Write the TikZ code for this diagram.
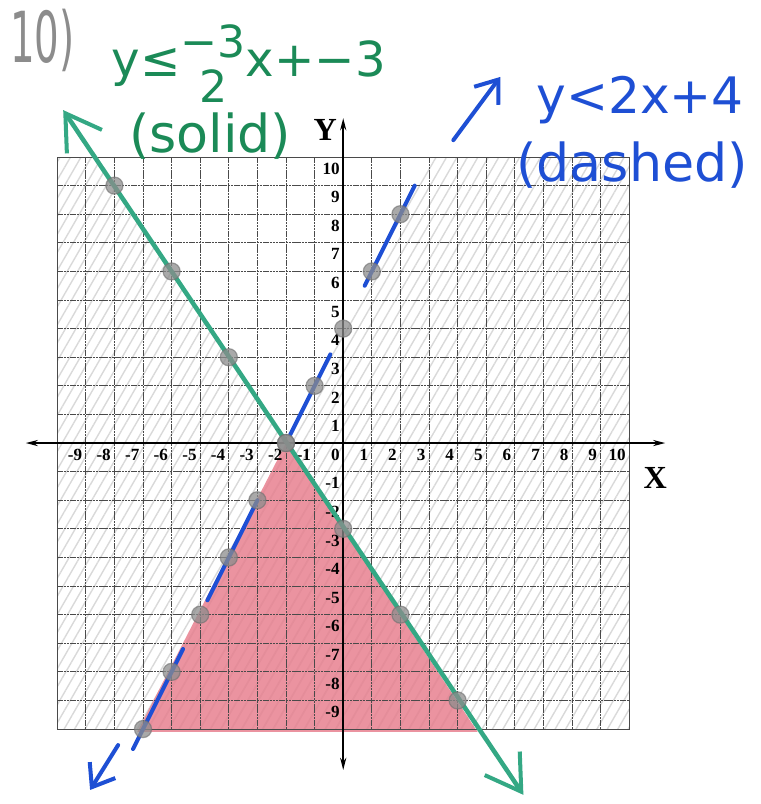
\documentclass[tikz,border=0pt]{standalone}
\usepackage{fontspec}
\setmainfont{DejaVu Sans}
\newfontfamily\sheetfont{Liberation Serif}
\usepackage{tikz}
\usepackage{xcolor}
\usetikzlibrary{arrows.meta,patterns.meta}
\definecolor{pencil}{HTML}{8C8C8C}
\definecolor{gridink}{HTML}{4A4A4A}
\definecolor{markergreen}{HTML}{1B8A57}
\definecolor{linegreen}{HTML}{34A884}
\definecolor{markerblue}{HTML}{1E4FD4}
\definecolor{shadepink}{HTML}{E7808F}
\definecolor{dotgray}{HTML}{8C8C8C}
\tikzset{
  gridline/.style={draw=gridink,line width=0.8pt,dash pattern=on 2.5pt off 0.7pt},
  gridframe/.style={draw=gridink,line width=1pt},
  axisline/.style={draw=black,line width=2.2pt,
                   arrows={Stealth[length=12pt,width=6pt]-Stealth[length=12pt,width=6pt]}},
  ticklabel/.style={font=\sheetfont\bfseries\fontsize{17}{17}\selectfont,inner sep=0pt},
  axislabel/.style={font=\sheetfont\bfseries\fontsize{32}{32}\selectfont,inner sep=0pt},
  handgray/.style={text=pencil,font=\fontsize{70}{70}\selectfont,inner sep=0pt},
  handgreen/.style={text=markergreen,font=\fontsize{48}{48}\selectfont,inner sep=0pt},
  handblue/.style={text=markerblue,font=\fontsize{50}{50}\selectfont,inner sep=0pt},
  greenline/.style={draw=linegreen,line width=4.5pt,line cap=round,
                    arrows={Straight Barb[length=34pt,width=42pt,line width=4pt]-Straight Barb[length=34pt,width=42pt,line width=4pt]}},
  blueline/.style={draw=markerblue,line width=4pt,line cap=round},
  bluearrow/.style={draw=markerblue,line width=4pt,line cap=round,
                    -{Straight Barb[length=20pt,width=30pt,line width=4pt]}},
  plotdot/.style={fill=dotgray,fill opacity=0.75,draw=dotgray!80!black,
                  draw opacity=0.6,line width=1.2pt},
  hatch/.style={pattern={Lines[angle=60,distance=9pt,line width=1.4pt]},
                pattern color=gray!30}
}
\begin{document}
\begin{tikzpicture}[x=1cm,y=1cm]
    \path[use as bounding box] (-12,-12.62) rectangle (14.58,15.49);
    % shading
    \fill[hatch] (3,10) -- (10,10) -- (10,-10) -- (-7,-10) -- cycle;
    \fill[hatch] (-10,10) -- (-8.667,10) -- (4.667,-10) -- (-10,-10) -- cycle;
    \fill[shadepink,fill opacity=0.85] (-2,0) -- (-7.2,-10.1) -- (4.7,-10.1) -- cycle;
    % grid
    \foreach \k in {-10,...,10} {
      \draw[gridline] (\k,-10) -- (\k,10);
      \draw[gridline] (-10,\k) -- (10,\k);
    }
    \draw[gridframe] (-10,-10) rectangle (10,10);
    % axes
    \coordinate (xleft) at (-11.1,0);
    \coordinate (xright) at (11.26,0);
    \coordinate (ytop) at (0,11.36);
    \coordinate (ybottom) at (0,-11.43);
    \draw[axisline] (xleft) -- (xright);
    \draw[axisline] (ybottom) -- (ytop);
    \foreach \k in {-9,...,10}
      \node[ticklabel,anchor=north east] (xt\k) at (\k-0.12,-0.2) {\k};
    \foreach \k in {-9,...,-1}
      \node[ticklabel,anchor=north east] (yt\k) at (-0.12,\k-0.2) {\k};
    \foreach \k in {1,...,10}
      \node[ticklabel,anchor=north east] (yt\k) at (-0.12,\k-0.2) {\k};
    \node[axislabel] (xname) at (10.91,-1.22) {X};
    \node[axislabel] (yname) at (-0.63,10.94) {Y};
    % boundary lines
    \coordinate (greentop) at (-9.79,11.64);
    \coordinate (greenbottom) at (6.3,-12.3);
    \draw[greenline] (greentop) -- (greenbottom);
    \foreach \a/\b in {-7.35/-5.6,-4.75/-3.0,-1.85/-0.45,0.75/2.5}
      \draw[blueline] (\a,{2*\a+4}) -- (\b,{2*\b+4});
    \coordinate (lowtail) at (-7.87,-10.56);
    \coordinate (lowtip) at (-8.85,-12.13);
    \draw[bluearrow] (lowtail) -- (lowtip);
    \coordinate (hightail) at (3.85,10.59);
    \coordinate (hightip) at (5.49,12.8);
    \draw[bluearrow] (hightail) -- (hightip);
    % plotted points
    \foreach \x in {-8,-6,...,4}
      \draw[plotdot] (\x,{-1.5*\x-3}) circle (0.3);
    \foreach \x in {-7,...,2}
      \draw[plotdot] (\x,{2*\x+4}) circle (0.3);
    % handwriting
    \node[handgray] (probnum) at (-10.52,14.09) {\scalebox{0.55}[1]{10)}};
    \node[handgreen] (greeneq) at (-3.3,13.05)
      {y≤{\fontsize{44}{40}\selectfont\begin{tabular}{@{}c@{}}−3\\2\end{tabular}}x+−3};
    \node[handgreen,font=\fontsize{52}{52}\selectfont] (greennote) at (-4.65,10.72) {(solid)};
    \node[handblue] (blueeq) at (10.38,12.0) {y<2x+4};
    \node[handblue,font=\fontsize{52}{52}\selectfont] (bluenote) at (10.1,9.72) {(dashed)};
  \end{tikzpicture}
\end{document}
